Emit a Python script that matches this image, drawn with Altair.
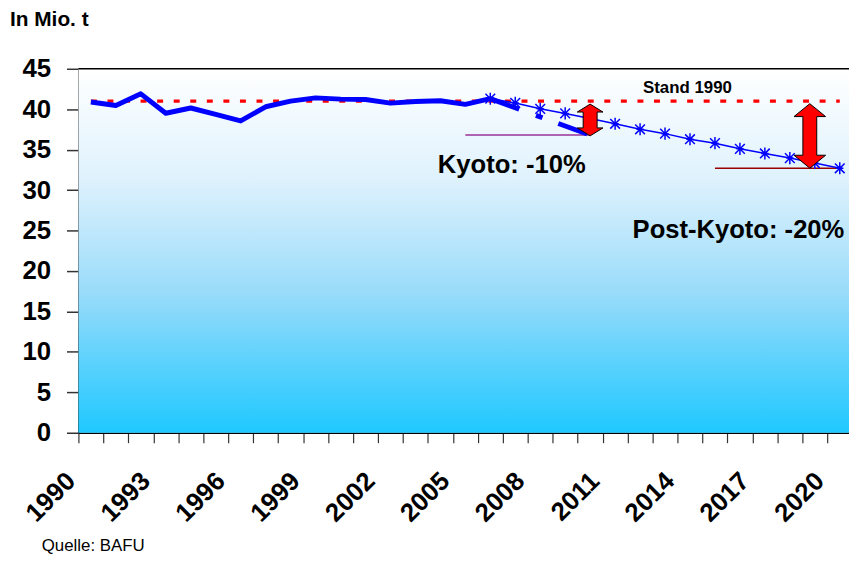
import altair as alt
import pandas as pd

# ---- data ----
hist_years = list(range(1990, 2007))
hist_values = [40.9, 40.45, 41.9, 39.5, 40.15, 39.35, 38.55, 40.3, 41.0, 41.4,
               41.25, 41.2, 40.75, 40.95, 41.05, 40.6, 41.3]

proj_years = list(range(2006, 2021))
proj_values = [41.3, 40.78, 40.05, 39.48, 38.85, 38.2, 37.52, 36.98, 36.29,
               35.8, 35.1, 34.53, 33.96, 33.35, 32.7]

kyoto_path_years = [2006, 2010]
kyoto_path_values = [41.3, 36.8]

stand_years = [1990, 2020]
stand_values = [41.0, 41.0]

kyoto_target_years = [2005, 2010]
kyoto_target_values = [36.8, 36.8]

post_target_years = [2015, 2020]
post_target_values = [32.7, 32.7]

arrow_kyoto = {"year": [2010], "value": [38.67]}
arrow_post = {"year": [2018.8], "value": [36.7]}

label_texts = ["Stand 1990", "Kyoto: -10%", "Post-Kyoto: -20%"]
label_years = [2013.9, 2003.9, 2011.7]
label_values = [42.6, 33.1, 25.05]
label_sizes = [17, 25.8, 25.8]
label_aligns = ["center", "left", "left"]

tick_bounds = [1989.5 + i for i in range(31)]
y_ticks = list(range(0, 46, 5))

FONT = "Liberation Sans"
W, H = 777, 367
X0, X1 = 1989.5, 2020.37

xscale = alt.Scale(domain=[X0, X1], nice=False, zero=False)
yscale = alt.Scale(domain=[0, 45], nice=False, zero=True)

xaxis = alt.Axis(
    values=tick_bounds,
    labelExpr="(datum.value - 1989.5) % 3 == 0 ? toString(datum.value + 0.5) : ''",
    tickSize=10, tickColor="#333333", tickWidth=1.2,
    domainColor="black", domainWidth=1.5,
    labelAngle=-45, labelAlign="right", labelBaseline="top",
    labelPadding=25, labelOffset=-17,
    labelFont=FONT, labelFontSize=26, labelFontWeight="bold", labelColor="black",
    labelOverlap=False, labelFlush=False, labelBound=False,
    grid=False, title=None,
)
yaxis = alt.Axis(
    values=y_ticks, tickSize=12, tickColor="#333333", tickWidth=1.5,
    domainColor="black", domainWidth=1.5,
    labelPadding=16, labelFont=FONT, labelFontSize=26, labelFontWeight="bold",
    labelColor="black", grid=False, title=None,
)

def X(f="year"):
    return alt.X(f"{f}:Q", scale=xscale, axis=xaxis)

def Y(f="value"):
    return alt.Y(f"{f}:Q", scale=yscale, axis=yaxis)

def df(years, values):
    return pd.DataFrame({"year": years, "value": values})

gradient = alt.LinearGradient(
    gradient="linear",
    stops=[
        alt.GradientStop(color="#ffffff", offset=0),
        alt.GradientStop(color="#dff2fd", offset=0.3),
        alt.GradientStop(color="#98dbfa", offset=0.62),
        alt.GradientStop(color="#1ec8ff", offset=1),
    ],
    x1=0, x2=0, y1=0, y2=1,
)

bg = alt.Chart(pd.DataFrame({"year": [X0], "year2": [X1], "value": [45], "value2": [0]})).mark_rect(
    color=gradient
).encode(x=X(), x2="year2:Q", y=Y(), y2="value2:Q")

top_border = alt.Chart(pd.DataFrame({"value": [45]})).mark_rule(
    color="black", strokeWidth=1.5
).encode(y=Y())

stand = alt.Chart(df(stand_years, stand_values)).mark_line(
    color="#ff0000", strokeWidth=3.5, strokeDash=[6, 10.7]
).encode(x=X(), y=Y())

kyoto_target = alt.Chart(df(kyoto_target_years, kyoto_target_values)).mark_line(
    color="#993399", strokeWidth=1.5
).encode(x=X(), y=Y())

post_target = alt.Chart(df(post_target_years, post_target_values)).mark_line(
    color="#990000", strokeWidth=1.5
).encode(x=X(), y=Y())

proj_line = alt.Chart(df(proj_years, proj_values)).mark_line(
    color="#0000ff", strokeWidth=1.5
).encode(x=X(), y=Y())

STAR = "M0,-1L0,1M-0.8,-0.8L0.8,0.8M-0.8,0.8L0.8,-0.8M-0.6,0L0.6,0"
proj_pts = alt.Chart(df(proj_years, proj_values)).mark_point(
    shape=STAR, filled=False, color="#0000ff", strokeWidth=1.5, size=150, opacity=1
).encode(x=X(), y=Y())

kyoto_path = alt.Chart(df(kyoto_path_years, kyoto_path_values)).mark_line(
    color="#0000ff", strokeWidth=5, strokeDash=[31, 18, 7, 17]
).encode(x=X(), y=Y())

hist = alt.Chart(df(hist_years, hist_values)).mark_line(
    color="#0000ff", strokeWidth=5, strokeJoin="round"
).encode(x=X(), y=Y())

ARROW_K = ("M0,-1L0.81,-0.5L0.44,-0.5L0.44,0.5L0.81,0.5L0,1L-0.81,0.5L-0.44,0.5"
           "L-0.44,-0.5L-0.81,-0.5Z")
ARROW_P = ("M0,-1L0.49,-0.6L0.215,-0.6L0.215,0.6L0.49,0.6L0,1L-0.49,0.6L-0.215,0.6"
           "L-0.215,-0.6L-0.49,-0.6Z")

arrow_k = alt.Chart(pd.DataFrame(arrow_kyoto)).mark_point(
    shape=ARROW_K, filled=True, fill="#ff0000", stroke="black", strokeWidth=1,
    size=32 * 32, opacity=1, fillOpacity=1
).encode(x=X(), y=Y())

arrow_p = alt.Chart(pd.DataFrame(arrow_post)).mark_point(
    shape=ARROW_P, filled=True, fill="#ff0000", stroke="black", strokeWidth=1,
    size=65 * 65, opacity=1, fillOpacity=1
).encode(x=X(), y=Y())

labels = []
for t, yr, v, s, a in zip(label_texts, label_years, label_values, label_sizes, label_aligns):
    labels.append(
        alt.Chart(pd.DataFrame({"year": [yr], "value": [v], "t": [t]})).mark_text(
            font=FONT, fontSize=s, fontWeight="bold", color="black",
            align=a, baseline="middle"
        ).encode(x=X(), y=Y(), text="t:N")
    )

unit = alt.Chart(pd.DataFrame({"t": ["In Mio. t"]})).mark_text(
    font=FONT, fontSize=21, fontWeight="bold", color="black", align="left", baseline="middle"
).encode(x=alt.value(-69), y=alt.value(-49), text="t:N")

source = alt.Chart(pd.DataFrame({"t": ["Quelle: BAFU"]})).mark_text(
    font=FONT, fontSize=17, color="black", align="left", baseline="middle"
).encode(x=alt.value(-37), y=alt.value(481), text="t:N")

chart = alt.layer(
    bg, top_border, stand, kyoto_target, post_target, proj_line, proj_pts,
    kyoto_path, hist, arrow_k, arrow_p, *labels, unit, source
).properties(
    width=W, height=H,
    padding={"left": 71, "top": 59, "right": 0, "bottom": 122},
    autosize=alt.AutoSizeParams(type="none"),
).configure_view(stroke=None)

chart.save("out.html", embed_options={"renderer": "svg", "actions": False})
